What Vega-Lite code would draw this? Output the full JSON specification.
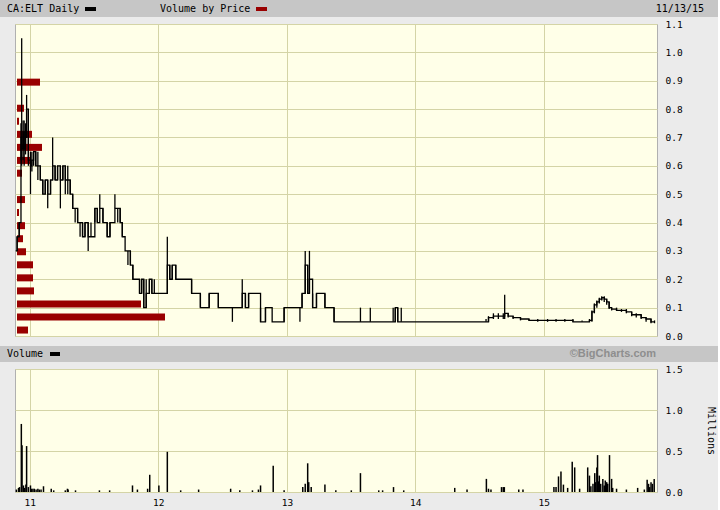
{
  "$schema": "https://vega.github.io/schema/vega-lite/v6.json",
  "padding": 0,
  "background": "#ebebeb",
  "spacing": 1,
  "config": {
    "view": {"stroke": null},
    "axis": {
      "labelFont": "DejaVu Sans Mono", "labelFontSize": 9.5, "labelColor": "#000",
      "titleFont": "DejaVu Sans Mono", "titleFontSize": 10, "titleFontWeight": "normal", "titleColor": "#000",
      "gridColor": "#d4d4a6", "gridOpacity": 1, "gridWidth": 1,
      "domain": false, "ticks": false, "tickSize": 0
    }
  },
  "datasets": {
    "price": [
      {"d": "2010-11-22", "lo": 0.30, "hi": 0.30, "c": 0.30},
      {"d": "2010-11-26", "lo": 0.30, "hi": 0.35, "c": 0.35},
      {"d": "2010-12-02", "lo": 0.35, "hi": 0.40, "c": 0.40},
      {"d": "2010-12-07", "lo": 0.62, "hi": 0.75, "c": 0.70},
      {"d": "2010-12-09", "lo": 0.60, "hi": 1.05, "c": 0.66},
      {"d": "2010-12-13", "lo": 0.62, "hi": 0.76, "c": 0.72},
      {"d": "2010-12-16", "lo": 0.60, "hi": 0.76, "c": 0.66},
      {"d": "2010-12-20", "lo": 0.64, "hi": 0.75, "c": 0.70},
      {"d": "2010-12-23", "lo": 0.70, "hi": 0.85, "c": 0.80},
      {"d": "2010-12-28", "lo": 0.60, "hi": 0.72, "c": 0.62},
      {"d": "2011-01-03", "lo": 0.50, "hi": 0.65, "c": 0.60},
      {"d": "2011-01-07", "lo": 0.58, "hi": 0.65, "c": 0.62},
      {"d": "2011-01-12", "lo": 0.60, "hi": 0.65, "c": 0.65},
      {"d": "2011-01-18", "lo": 0.60, "hi": 0.65, "c": 0.60},
      {"d": "2011-01-24", "lo": 0.55, "hi": 0.65, "c": 0.60},
      {"d": "2011-01-31", "lo": 0.55, "hi": 0.60, "c": 0.55},
      {"d": "2011-02-07", "lo": 0.50, "hi": 0.55, "c": 0.50},
      {"d": "2011-02-14", "lo": 0.50, "hi": 0.55, "c": 0.55},
      {"d": "2011-02-21", "lo": 0.45, "hi": 0.55, "c": 0.50},
      {"d": "2011-03-01", "lo": 0.50, "hi": 0.55, "c": 0.55},
      {"d": "2011-03-07", "lo": 0.55, "hi": 0.70, "c": 0.60},
      {"d": "2011-03-14", "lo": 0.55, "hi": 0.60, "c": 0.55},
      {"d": "2011-03-21", "lo": 0.55, "hi": 0.60, "c": 0.60},
      {"d": "2011-03-29", "lo": 0.45, "hi": 0.60, "c": 0.55},
      {"d": "2011-04-05", "lo": 0.55, "hi": 0.60, "c": 0.60},
      {"d": "2011-04-12", "lo": 0.50, "hi": 0.60, "c": 0.55},
      {"d": "2011-04-19", "lo": 0.50, "hi": 0.60, "c": 0.55},
      {"d": "2011-04-26", "lo": 0.50, "hi": 0.55, "c": 0.50},
      {"d": "2011-05-03", "lo": 0.45, "hi": 0.50, "c": 0.45},
      {"d": "2011-05-10", "lo": 0.40, "hi": 0.45, "c": 0.45},
      {"d": "2011-05-17", "lo": 0.40, "hi": 0.45, "c": 0.40},
      {"d": "2011-05-24", "lo": 0.35, "hi": 0.40, "c": 0.40},
      {"d": "2011-05-31", "lo": 0.35, "hi": 0.40, "c": 0.35},
      {"d": "2011-06-07", "lo": 0.35, "hi": 0.40, "c": 0.40},
      {"d": "2011-06-16", "lo": 0.30, "hi": 0.40, "c": 0.35},
      {"d": "2011-06-24", "lo": 0.35, "hi": 0.40, "c": 0.35},
      {"d": "2011-07-05", "lo": 0.40, "hi": 0.45, "c": 0.45},
      {"d": "2011-07-12", "lo": 0.40, "hi": 0.45, "c": 0.40},
      {"d": "2011-07-19", "lo": 0.45, "hi": 0.50, "c": 0.45},
      {"d": "2011-07-28", "lo": 0.40, "hi": 0.45, "c": 0.40},
      {"d": "2011-08-09", "lo": 0.35, "hi": 0.40, "c": 0.35},
      {"d": "2011-08-17", "lo": 0.35, "hi": 0.40, "c": 0.40},
      {"d": "2011-08-31", "lo": 0.45, "hi": 0.50, "c": 0.45},
      {"d": "2011-09-08", "lo": 0.40, "hi": 0.45, "c": 0.45},
      {"d": "2011-09-15", "lo": 0.40, "hi": 0.45, "c": 0.40},
      {"d": "2011-09-21", "lo": 0.35, "hi": 0.40, "c": 0.35},
      {"d": "2011-09-29", "lo": 0.30, "hi": 0.30, "c": 0.30},
      {"d": "2011-10-07", "lo": 0.25, "hi": 0.30, "c": 0.30},
      {"d": "2011-10-14", "lo": 0.25, "hi": 0.30, "c": 0.25},
      {"d": "2011-10-21", "lo": 0.20, "hi": 0.25, "c": 0.20},
      {"d": "2011-11-01", "lo": 0.20, "hi": 0.20, "c": 0.20},
      {"d": "2011-11-09", "lo": 0.15, "hi": 0.20, "c": 0.15},
      {"d": "2011-11-15", "lo": 0.15, "hi": 0.20, "c": 0.20},
      {"d": "2011-11-21", "lo": 0.10, "hi": 0.20, "c": 0.10},
      {"d": "2011-11-28", "lo": 0.10, "hi": 0.20, "c": 0.15},
      {"d": "2011-12-07", "lo": 0.15, "hi": 0.20, "c": 0.20},
      {"d": "2011-12-14", "lo": 0.15, "hi": 0.20, "c": 0.15},
      {"d": "2011-12-21", "lo": 0.15, "hi": 0.20, "c": 0.15},
      {"d": "2012-01-03", "lo": 0.15, "hi": 0.15, "c": 0.15},
      {"d": "2012-01-16", "lo": 0.15, "hi": 0.15, "c": 0.15},
      {"d": "2012-01-27", "lo": 0.15, "hi": 0.35, "c": 0.25},
      {"d": "2012-02-03", "lo": 0.20, "hi": 0.25, "c": 0.20},
      {"d": "2012-02-10", "lo": 0.20, "hi": 0.25, "c": 0.25},
      {"d": "2012-02-20", "lo": 0.20, "hi": 0.25, "c": 0.20},
      {"d": "2012-03-05", "lo": 0.20, "hi": 0.20, "c": 0.20},
      {"d": "2012-04-05", "lo": 0.15, "hi": 0.20, "c": 0.15},
      {"d": "2012-04-30", "lo": 0.10, "hi": 0.15, "c": 0.10},
      {"d": "2012-05-25", "lo": 0.10, "hi": 0.15, "c": 0.15},
      {"d": "2012-06-20", "lo": 0.10, "hi": 0.15, "c": 0.10},
      {"d": "2012-07-30", "lo": 0.05, "hi": 0.10, "c": 0.10},
      {"d": "2012-08-27", "lo": 0.10, "hi": 0.20, "c": 0.15},
      {"d": "2012-09-05", "lo": 0.10, "hi": 0.15, "c": 0.10},
      {"d": "2012-09-14", "lo": 0.10, "hi": 0.15, "c": 0.15},
      {"d": "2012-10-09", "lo": 0.15, "hi": 0.15, "c": 0.15},
      {"d": "2012-10-18", "lo": 0.05, "hi": 0.10, "c": 0.05},
      {"d": "2012-11-01", "lo": 0.05, "hi": 0.10, "c": 0.10},
      {"d": "2012-11-20", "lo": 0.05, "hi": 0.05, "c": 0.05},
      {"d": "2012-12-24", "lo": 0.05, "hi": 0.10, "c": 0.10},
      {"d": "2013-01-15", "lo": 0.10, "hi": 0.10, "c": 0.10},
      {"d": "2013-02-07", "lo": 0.05, "hi": 0.10, "c": 0.10},
      {"d": "2013-02-13", "lo": 0.10, "hi": 0.15, "c": 0.15},
      {"d": "2013-02-22", "lo": 0.15, "hi": 0.30, "c": 0.25},
      {"d": "2013-03-01", "lo": 0.15, "hi": 0.25, "c": 0.15},
      {"d": "2013-03-06", "lo": 0.15, "hi": 0.30, "c": 0.20},
      {"d": "2013-03-15", "lo": 0.10, "hi": 0.15, "c": 0.10},
      {"d": "2013-03-26", "lo": 0.10, "hi": 0.15, "c": 0.15},
      {"d": "2013-04-19", "lo": 0.10, "hi": 0.15, "c": 0.10},
      {"d": "2013-05-15", "lo": 0.05, "hi": 0.10, "c": 0.05},
      {"d": "2013-07-29", "lo": 0.05, "hi": 0.10, "c": 0.05},
      {"d": "2013-08-26", "lo": 0.05, "hi": 0.10, "c": 0.05},
      {"d": "2013-10-30", "lo": 0.05, "hi": 0.10, "c": 0.05},
      {"d": "2013-11-05", "lo": 0.05, "hi": 0.10, "c": 0.10},
      {"d": "2013-11-12", "lo": 0.05, "hi": 0.10, "c": 0.05},
      {"d": "2013-11-22", "lo": 0.05, "hi": 0.10, "c": 0.05},
      {"d": "2014-07-21", "lo": 0.05, "hi": 0.06, "c": 0.05},
      {"d": "2014-07-28", "lo": 0.05, "hi": 0.07, "c": 0.065},
      {"d": "2014-08-11", "lo": 0.06, "hi": 0.08, "c": 0.07},
      {"d": "2014-08-25", "lo": 0.06, "hi": 0.08, "c": 0.07},
      {"d": "2014-09-08", "lo": 0.06, "hi": 0.08, "c": 0.07},
      {"d": "2014-09-12", "lo": 0.06, "hi": 0.145, "c": 0.08},
      {"d": "2014-09-22", "lo": 0.065, "hi": 0.08, "c": 0.07},
      {"d": "2014-10-06", "lo": 0.06, "hi": 0.07, "c": 0.065},
      {"d": "2014-10-27", "lo": 0.055, "hi": 0.065, "c": 0.06},
      {"d": "2014-11-20", "lo": 0.055, "hi": 0.06, "c": 0.055},
      {"d": "2014-12-15", "lo": 0.05, "hi": 0.06, "c": 0.055},
      {"d": "2015-01-12", "lo": 0.05, "hi": 0.06, "c": 0.055},
      {"d": "2015-02-05", "lo": 0.05, "hi": 0.06, "c": 0.055},
      {"d": "2015-03-02", "lo": 0.05, "hi": 0.06, "c": 0.055},
      {"d": "2015-03-25", "lo": 0.05, "hi": 0.06, "c": 0.05},
      {"d": "2015-04-20", "lo": 0.05, "hi": 0.055, "c": 0.05},
      {"d": "2015-05-11", "lo": 0.05, "hi": 0.06, "c": 0.055},
      {"d": "2015-05-18", "lo": 0.05, "hi": 0.09, "c": 0.085},
      {"d": "2015-05-25", "lo": 0.08, "hi": 0.115, "c": 0.11},
      {"d": "2015-06-01", "lo": 0.10, "hi": 0.125, "c": 0.12},
      {"d": "2015-06-08", "lo": 0.115, "hi": 0.135, "c": 0.13},
      {"d": "2015-06-15", "lo": 0.125, "hi": 0.14, "c": 0.135},
      {"d": "2015-06-22", "lo": 0.12, "hi": 0.14, "c": 0.13},
      {"d": "2015-06-29", "lo": 0.11, "hi": 0.13, "c": 0.12},
      {"d": "2015-07-06", "lo": 0.095, "hi": 0.12, "c": 0.10},
      {"d": "2015-07-13", "lo": 0.09, "hi": 0.10, "c": 0.095},
      {"d": "2015-07-27", "lo": 0.09, "hi": 0.10, "c": 0.09},
      {"d": "2015-08-10", "lo": 0.085, "hi": 0.095, "c": 0.09},
      {"d": "2015-08-24", "lo": 0.08, "hi": 0.095, "c": 0.085},
      {"d": "2015-09-08", "lo": 0.07, "hi": 0.085, "c": 0.075},
      {"d": "2015-09-21", "lo": 0.065, "hi": 0.08, "c": 0.075},
      {"d": "2015-10-05", "lo": 0.06, "hi": 0.075, "c": 0.065},
      {"d": "2015-10-19", "lo": 0.05, "hi": 0.065, "c": 0.06},
      {"d": "2015-11-02", "lo": 0.045, "hi": 0.06, "c": 0.05},
      {"d": "2015-11-12", "lo": 0.045, "hi": 0.055, "c": 0.05}
    ],
    "vbp": [
      {"price": 0.021, "vol": 1.1},
      {"price": 0.067, "vol": 14.8},
      {"price": 0.113, "vol": 12.4},
      {"price": 0.159, "vol": 1.7},
      {"price": 0.205, "vol": 1.6},
      {"price": 0.251, "vol": 1.6},
      {"price": 0.297, "vol": 0.9},
      {"price": 0.343, "vol": 0.6},
      {"price": 0.389, "vol": 0.8},
      {"price": 0.435, "vol": 0.2},
      {"price": 0.481, "vol": 0.8},
      {"price": 0.574, "vol": 0.5},
      {"price": 0.619, "vol": 1.4},
      {"price": 0.665, "vol": 2.5},
      {"price": 0.711, "vol": 1.5},
      {"price": 0.757, "vol": 0.2},
      {"price": 0.803, "vol": 0.7},
      {"price": 0.895, "vol": 2.3}
    ],
    "volume": [
      {"d": "2010-11-24", "v": 0.03}, {"d": "2010-11-30", "v": 0.05}, {"d": "2010-12-03", "v": 0.06},
      {"d": "2010-12-08", "v": 0.83}, {"d": "2010-12-10", "v": 0.57}, {"d": "2010-12-14", "v": 0.08},
      {"d": "2010-12-17", "v": 0.05}, {"d": "2010-12-21", "v": 0.09}, {"d": "2010-12-23", "v": 0.56},
      {"d": "2010-12-28", "v": 0.06}, {"d": "2011-01-03", "v": 0.08}, {"d": "2011-01-06", "v": 0.04},
      {"d": "2011-01-10", "v": 0.04}, {"d": "2011-01-14", "v": 0.04}, {"d": "2011-01-19", "v": 0.03},
      {"d": "2011-01-24", "v": 0.04}, {"d": "2011-01-28", "v": 0.03}, {"d": "2011-02-02", "v": 0.03},
      {"d": "2011-02-09", "v": 0.07}, {"d": "2011-03-03", "v": 0.04}, {"d": "2011-03-10", "v": 0.02},
      {"d": "2011-04-12", "v": 0.02}, {"d": "2011-04-18", "v": 0.04}, {"d": "2011-04-20", "v": 0.03},
      {"d": "2011-05-11", "v": 0.02}, {"d": "2011-07-18", "v": 0.02}, {"d": "2011-08-16", "v": 0.02},
      {"d": "2011-10-20", "v": 0.08}, {"d": "2011-11-03", "v": 0.03}, {"d": "2011-12-02", "v": 0.04},
      {"d": "2011-12-08", "v": 0.21}, {"d": "2012-01-03", "v": 0.08}, {"d": "2012-01-27", "v": 0.49},
      {"d": "2012-03-05", "v": 0.02}, {"d": "2012-04-25", "v": 0.03}, {"d": "2012-07-25", "v": 0.04},
      {"d": "2012-08-20", "v": 0.02}, {"d": "2012-09-25", "v": 0.02}, {"d": "2012-10-12", "v": 0.03},
      {"d": "2012-10-18", "v": 0.08}, {"d": "2012-11-23", "v": 0.32}, {"d": "2012-12-24", "v": 0.02},
      {"d": "2013-02-15", "v": 0.06}, {"d": "2013-02-22", "v": 0.10}, {"d": "2013-03-01", "v": 0.35},
      {"d": "2013-03-04", "v": 0.12}, {"d": "2013-03-11", "v": 0.06}, {"d": "2013-04-19", "v": 0.09},
      {"d": "2013-05-20", "v": 0.02}, {"d": "2013-07-03", "v": 0.02}, {"d": "2013-07-29", "v": 0.23},
      {"d": "2013-09-19", "v": 0.02}, {"d": "2013-09-30", "v": 0.02}, {"d": "2013-10-31", "v": 0.06},
      {"d": "2013-11-29", "v": 0.02}, {"d": "2014-04-23", "v": 0.05}, {"d": "2014-05-28", "v": 0.03},
      {"d": "2014-07-22", "v": 0.16}, {"d": "2014-07-28", "v": 0.04}, {"d": "2014-08-04", "v": 0.03},
      {"d": "2014-09-03", "v": 0.06}, {"d": "2014-09-08", "v": 0.06}, {"d": "2014-09-11", "v": 0.06},
      {"d": "2014-10-22", "v": 0.03}, {"d": "2014-11-03", "v": 0.03}, {"d": "2015-01-30", "v": 0.06},
      {"d": "2015-02-05", "v": 0.06}, {"d": "2015-02-12", "v": 0.19}, {"d": "2015-02-19", "v": 0.25},
      {"d": "2015-02-26", "v": 0.09}, {"d": "2015-03-10", "v": 0.05}, {"d": "2015-03-23", "v": 0.37},
      {"d": "2015-03-30", "v": 0.30}, {"d": "2015-04-13", "v": 0.04}, {"d": "2015-05-06", "v": 0.30},
      {"d": "2015-05-11", "v": 0.20}, {"d": "2015-05-15", "v": 0.07}, {"d": "2015-05-21", "v": 0.10},
      {"d": "2015-05-26", "v": 0.23}, {"d": "2015-05-28", "v": 0.12}, {"d": "2015-06-01", "v": 0.30},
      {"d": "2015-06-03", "v": 0.45}, {"d": "2015-06-05", "v": 0.13}, {"d": "2015-06-08", "v": 0.20},
      {"d": "2015-06-12", "v": 0.10}, {"d": "2015-06-18", "v": 0.16}, {"d": "2015-06-22", "v": 0.08},
      {"d": "2015-06-25", "v": 0.14}, {"d": "2015-06-29", "v": 0.12}, {"d": "2015-07-02", "v": 0.10},
      {"d": "2015-07-07", "v": 0.45}, {"d": "2015-07-13", "v": 0.16}, {"d": "2015-07-16", "v": 0.05},
      {"d": "2015-07-27", "v": 0.04}, {"d": "2015-08-24", "v": 0.03}, {"d": "2015-09-25", "v": 0.05},
      {"d": "2015-10-14", "v": 0.03}, {"d": "2015-10-22", "v": 0.15}, {"d": "2015-10-26", "v": 0.10},
      {"d": "2015-10-29", "v": 0.06}, {"d": "2015-11-02", "v": 0.12}, {"d": "2015-11-06", "v": 0.10},
      {"d": "2015-11-11", "v": 0.16}
    ]
  },
  "vconcat": [
    {
      "width": 718, "height": 17,
      "view": {"fill": "#c6c6c6", "stroke": null},
      "data": {"values": [{"k": 1}]},
      "layer": [
        {"mark": {"type": "text", "text": "CA:ELT Daily", "align": "left", "baseline": "middle", "font": "DejaVu Sans Mono", "fontSize": 10, "color": "#000"},
         "encoding": {"x": {"value": 7}, "y": {"value": 9}}},
        {"mark": {"type": "rect", "color": "#000"},
         "encoding": {"x": {"value": 85}, "x2": {"value": 96}, "y": {"value": 7}, "y2": {"value": 11}}},
        {"mark": {"type": "text", "text": "Volume by Price", "align": "left", "baseline": "middle", "font": "DejaVu Sans Mono", "fontSize": 10, "color": "#000"},
         "encoding": {"x": {"value": 160}, "y": {"value": 9}}},
        {"mark": {"type": "rect", "color": "#990000"},
         "encoding": {"x": {"value": 256}, "x2": {"value": 267}, "y": {"value": 7}, "y2": {"value": 11}}},
        {"mark": {"type": "text", "text": "11/13/15", "align": "right", "baseline": "middle", "font": "DejaVu Sans Mono", "fontSize": 10, "color": "#000"},
         "encoding": {"x": {"value": 704}, "y": {"value": 9}}}
      ]
    },
    {
      "hconcat": [
        {"width": 1, "height": 1, "data": {"values": []}, "mark": "point", "view": {"stroke": null}},
        {
          "width": 642, "height": 312,
          "view": {"fill": "#ffffe8", "stroke": "#b0b0b0"},
          "layer": [
            {
              "data": {"name": "vbp"},
              "mark": {"type": "bar", "orient": "horizontal", "size": 7, "color": "#990000"},
              "encoding": {
                "x": {"field": "vol", "type": "quantitative", "scale": {"domain": [-0.2, 64]}, "axis": null},
                "y": {"field": "price", "type": "quantitative", "scale": {"domain": [0, 1.1], "nice": false, "zero": true, "padding": 0},
                      "axis": {"orient": "right", "values": [0, 0.1, 0.2, 0.3, 0.4, 0.5, 0.6, 0.7, 0.8, 0.9, 1.0, 1.1], "format": ".1f", "title": null, "grid": true, "labelPadding": 8}}
              }
            },
            {
              "data": {"name": "price"},
              "encoding": {
                "x": {"field": "d", "type": "temporal",
                      "scale": {"type": "utc", "domain": [{"year": 2010, "month": 11, "date": 20, "utc": true}, {"year": 2015, "month": 11, "date": 19, "utc": true}]},
                      "axis": {"tickCount": "year", "labels": false, "grid": true, "title": null, "minExtent": 8, "maxExtent": 8}}
              },
              "layer": [
                {"mark": {"type": "rule", "color": "#000", "strokeWidth": 1.3},
                 "encoding": {
                   "y": {"field": "lo", "type": "quantitative", "axis": {"orient": "right", "values": [0, 0.1, 0.2, 0.3, 0.4, 0.5, 0.6, 0.7, 0.8, 0.9, 1.0, 1.1], "format": ".1f", "title": null, "grid": true, "labelPadding": 8}},
                   "y2": {"field": "hi"}
                 }},
                {"mark": {"type": "line", "interpolate": "step-after", "color": "#000", "strokeWidth": 1.3},
                 "encoding": {
                   "y": {"field": "c", "type": "quantitative", "axis": {"orient": "right", "values": [0, 0.1, 0.2, 0.3, 0.4, 0.5, 0.6, 0.7, 0.8, 0.9, 1.0, 1.1], "format": ".1f", "title": null, "grid": true, "labelPadding": 8}}
                 }}
              ]
            }
          ],
          "resolve": {"scale": {"x": "independent"}, "axis": {"x": "independent"}}
        }
      ],
      "spacing": 11
    },
    {
      "width": 718, "height": 16,
      "view": {"fill": "#c6c6c6", "stroke": null},
      "data": {"values": [{"k": 1}]},
      "layer": [
        {"mark": {"type": "text", "text": "Volume", "align": "left", "baseline": "middle", "font": "DejaVu Sans Mono", "fontSize": 10, "color": "#000"},
         "encoding": {"x": {"value": 7}, "y": {"value": 8}}},
        {"mark": {"type": "rect", "color": "#000"},
         "encoding": {"x": {"value": 50}, "x2": {"value": 60}, "y": {"value": 6}, "y2": {"value": 10}}},
        {"mark": {"type": "text", "text": "©BigCharts.com", "align": "right", "baseline": "middle", "font": "Liberation Sans", "fontWeight": "bold", "fontSize": 11, "color": "#8e8e8e"},
         "encoding": {"x": {"value": 656}, "y": {"value": 8}}}
      ]
    },
    {
      "hconcat": [
        {"width": 1, "height": 1, "data": {"values": []}, "mark": "point", "view": {"stroke": null}},
        {
          "width": 642, "height": 123,
          "view": {"fill": "#ffffe8", "stroke": "#b0b0b0"},
          "data": {"name": "volume"},
          "mark": {"type": "rule", "color": "#000", "strokeWidth": 1.5},
          "encoding": {
            "x": {"field": "d", "type": "temporal",
                  "scale": {"type": "utc", "domain": [{"year": 2010, "month": 11, "date": 20, "utc": true}, {"year": 2015, "month": 11, "date": 19, "utc": true}]},
                  "axis": {"tickCount": "year", "format": "%y", "grid": true, "title": null, "labelPadding": 5, "minExtent": 18, "maxExtent": 18}},
            "y": {"field": "v", "type": "quantitative", "scale": {"domain": [0, 1.5], "nice": false},
                  "axis": {"orient": "right", "values": [0, 0.5, 1.0, 1.5], "format": ".1f", "title": "Millions", "grid": true, "labelPadding": 8, "titlePadding": 23}},
            "y2": {"datum": 0}
          }
        }
      ],
      "spacing": 13
    }
  ]
}
